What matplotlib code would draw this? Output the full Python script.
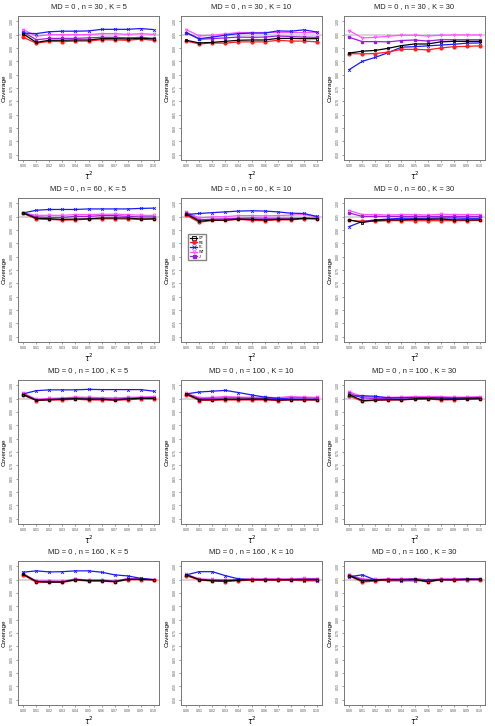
import numpy as np
import matplotlib
matplotlib.use("Agg")
import matplotlib.pyplot as plt

plt.rcParams['font.family'] = ['Liberation Sans', 'DejaVu Sans']

tau2 = [0.00, 0.01, 0.02, 0.03, 0.04, 0.05, 0.06, 0.07, 0.08, 0.09, 0.10]
tau_labels = ["0.00", "0.01", "0.02", "0.03", "0.04", "0.05", "0.06", "0.07", "0.08", "0.09", "0.10"]
sample_sizes = [30, 60, 100, 160]
study_counts = [5, 10, 30]
methods = ["CP", "RE", "PL", "WT", "J"]

# coverage, one list per (n, K) panel and method
cp_30_5 = [0.953, 0.921, 0.929, 0.929, 0.930, 0.930, 0.935, 0.935, 0.934, 0.936, 0.934]
re_30_5 = [0.940, 0.918, 0.925, 0.924, 0.926, 0.926, 0.931, 0.930, 0.929, 0.933, 0.929]
pl_30_5 = [0.956, 0.954, 0.961, 0.963, 0.963, 0.964, 0.970, 0.970, 0.970, 0.973, 0.969]
wt_30_5 = [0.969, 0.944, 0.950, 0.950, 0.950, 0.950, 0.954, 0.954, 0.951, 0.954, 0.951]
j_30_5 = [0.960, 0.931, 0.936, 0.936, 0.936, 0.938, 0.940, 0.940, 0.938, 0.940, 0.936]

cp_30_10 = [0.929, 0.919, 0.921, 0.925, 0.929, 0.930, 0.930, 0.936, 0.936, 0.935, 0.935]
re_30_10 = [0.926, 0.915, 0.919, 0.918, 0.923, 0.923, 0.923, 0.929, 0.926, 0.926, 0.923]
pl_30_10 = [0.958, 0.935, 0.941, 0.948, 0.954, 0.956, 0.956, 0.964, 0.963, 0.968, 0.960]
wt_30_10 = [0.969, 0.945, 0.948, 0.953, 0.958, 0.958, 0.958, 0.958, 0.958, 0.958, 0.958]
j_30_10 = [0.958, 0.933, 0.935, 0.938, 0.941, 0.940, 0.941, 0.945, 0.943, 0.941, 0.940]

cp_30_30 = [0.881, 0.888, 0.891, 0.899, 0.909, 0.915, 0.915, 0.923, 0.925, 0.925, 0.925]
re_30_30 = [0.879, 0.878, 0.879, 0.885, 0.895, 0.895, 0.893, 0.900, 0.905, 0.906, 0.908]
pl_30_30 = [0.819, 0.850, 0.865, 0.883, 0.903, 0.905, 0.908, 0.911, 0.914, 0.918, 0.919]
wt_30_30 = [0.965, 0.938, 0.940, 0.944, 0.948, 0.948, 0.945, 0.948, 0.949, 0.949, 0.949]
j_30_30 = [0.940, 0.924, 0.924, 0.923, 0.928, 0.930, 0.926, 0.931, 0.931, 0.931, 0.931]

cp_60_5 = [0.964, 0.944, 0.942, 0.940, 0.941, 0.942, 0.945, 0.945, 0.945, 0.941, 0.942]
re_60_5 = [0.962, 0.941, 0.940, 0.937, 0.938, 0.941, 0.942, 0.942, 0.941, 0.940, 0.941]
pl_60_5 = [0.964, 0.974, 0.977, 0.977, 0.977, 0.979, 0.979, 0.979, 0.979, 0.981, 0.982]
wt_60_5 = [0.964, 0.955, 0.955, 0.955, 0.958, 0.958, 0.959, 0.959, 0.958, 0.955, 0.955]
j_60_5 = [0.964, 0.949, 0.947, 0.947, 0.951, 0.951, 0.954, 0.954, 0.951, 0.949, 0.949]

cp_60_10 = [0.960, 0.933, 0.937, 0.937, 0.941, 0.940, 0.938, 0.940, 0.940, 0.944, 0.942]
re_60_10 = [0.955, 0.929, 0.936, 0.936, 0.940, 0.936, 0.935, 0.938, 0.938, 0.942, 0.942]
pl_60_10 = [0.958, 0.962, 0.965, 0.968, 0.971, 0.972, 0.971, 0.968, 0.963, 0.962, 0.951]
wt_60_10 = [0.967, 0.945, 0.949, 0.950, 0.954, 0.954, 0.953, 0.954, 0.956, 0.958, 0.949]
j_60_10 = [0.964, 0.938, 0.941, 0.942, 0.944, 0.945, 0.944, 0.944, 0.944, 0.944, 0.945]

cp_60_30 = [0.938, 0.928, 0.936, 0.938, 0.938, 0.940, 0.940, 0.941, 0.938, 0.938, 0.938]
re_60_30 = [0.936, 0.933, 0.933, 0.935, 0.935, 0.935, 0.935, 0.935, 0.935, 0.935, 0.936]
pl_60_30 = [0.913, 0.932, 0.938, 0.941, 0.944, 0.944, 0.944, 0.945, 0.945, 0.944, 0.944]
wt_60_30 = [0.973, 0.958, 0.958, 0.956, 0.958, 0.958, 0.956, 0.959, 0.958, 0.958, 0.958]
j_60_30 = [0.964, 0.951, 0.951, 0.951, 0.951, 0.951, 0.951, 0.951, 0.951, 0.951, 0.951]

cp_100_5 = [0.965, 0.944, 0.946, 0.948, 0.950, 0.948, 0.948, 0.945, 0.949, 0.951, 0.951]
re_100_5 = [0.963, 0.943, 0.945, 0.945, 0.948, 0.945, 0.945, 0.944, 0.946, 0.949, 0.949]
pl_100_5 = [0.968, 0.980, 0.983, 0.983, 0.983, 0.985, 0.984, 0.984, 0.984, 0.984, 0.978]
wt_100_5 = [0.971, 0.948, 0.951, 0.953, 0.956, 0.955, 0.954, 0.953, 0.955, 0.956, 0.958]
j_100_5 = [0.969, 0.945, 0.949, 0.950, 0.953, 0.951, 0.950, 0.949, 0.951, 0.954, 0.954]

cp_100_10 = [0.968, 0.946, 0.946, 0.948, 0.948, 0.948, 0.948, 0.945, 0.946, 0.946, 0.946]
re_100_10 = [0.965, 0.943, 0.944, 0.945, 0.945, 0.945, 0.945, 0.943, 0.945, 0.945, 0.945]
pl_100_10 = [0.968, 0.975, 0.978, 0.981, 0.973, 0.964, 0.956, 0.951, 0.948, 0.948, 0.946]
wt_100_10 = [0.970, 0.954, 0.955, 0.958, 0.956, 0.955, 0.955, 0.954, 0.958, 0.956, 0.955]
j_100_10 = [0.969, 0.950, 0.951, 0.953, 0.953, 0.951, 0.951, 0.950, 0.953, 0.953, 0.951]

cp_100_30 = [0.965, 0.943, 0.945, 0.946, 0.946, 0.949, 0.950, 0.948, 0.948, 0.949, 0.950]
re_100_30 = [0.960, 0.940, 0.944, 0.945, 0.945, 0.948, 0.949, 0.945, 0.946, 0.948, 0.949]
pl_100_30 = [0.959, 0.961, 0.959, 0.953, 0.953, 0.953, 0.954, 0.953, 0.951, 0.953, 0.953]
wt_100_30 = [0.975, 0.959, 0.955, 0.955, 0.956, 0.958, 0.958, 0.958, 0.956, 0.956, 0.958]
j_100_30 = [0.970, 0.953, 0.951, 0.951, 0.953, 0.954, 0.954, 0.953, 0.953, 0.953, 0.954]

cp_160_5 = [0.970, 0.943, 0.941, 0.941, 0.950, 0.946, 0.946, 0.943, 0.951, 0.951, 0.950]
re_160_5 = [0.968, 0.940, 0.940, 0.940, 0.948, 0.945, 0.945, 0.941, 0.950, 0.950, 0.949]
pl_160_5 = [0.978, 0.983, 0.979, 0.980, 0.983, 0.983, 0.978, 0.968, 0.964, 0.955, 0.950]
wt_160_5 = [0.973, 0.945, 0.945, 0.944, 0.953, 0.948, 0.949, 0.945, 0.954, 0.953, 0.950]
j_160_5 = [0.971, 0.944, 0.944, 0.943, 0.951, 0.948, 0.948, 0.944, 0.953, 0.953, 0.950]

cp_160_10 = [0.968, 0.950, 0.946, 0.945, 0.948, 0.950, 0.950, 0.950, 0.950, 0.950, 0.950]
re_160_10 = [0.965, 0.948, 0.945, 0.943, 0.946, 0.948, 0.948, 0.948, 0.948, 0.948, 0.948]
pl_160_10 = [0.968, 0.980, 0.980, 0.965, 0.953, 0.950, 0.948, 0.948, 0.948, 0.946, 0.946]
wt_160_10 = [0.970, 0.953, 0.951, 0.950, 0.951, 0.953, 0.953, 0.953, 0.953, 0.955, 0.954]
j_160_10 = [0.969, 0.951, 0.949, 0.948, 0.950, 0.951, 0.951, 0.951, 0.951, 0.953, 0.953]

cp_160_30 = [0.965, 0.945, 0.948, 0.950, 0.950, 0.951, 0.943, 0.950, 0.950, 0.951, 0.951]
re_160_30 = [0.964, 0.941, 0.945, 0.949, 0.949, 0.950, 0.941, 0.949, 0.949, 0.950, 0.950]
pl_160_30 = [0.961, 0.968, 0.949, 0.946, 0.946, 0.946, 0.948, 0.950, 0.948, 0.950, 0.950]
wt_160_30 = [0.968, 0.953, 0.951, 0.953, 0.953, 0.954, 0.950, 0.953, 0.953, 0.954, 0.954]
j_160_30 = [0.966, 0.950, 0.950, 0.951, 0.951, 0.953, 0.948, 0.951, 0.951, 0.953, 0.953]

panels = {
    (30, 5): [cp_30_5, re_30_5, pl_30_5, wt_30_5, j_30_5],
    (30, 10): [cp_30_10, re_30_10, pl_30_10, wt_30_10, j_30_10],
    (30, 30): [cp_30_30, re_30_30, pl_30_30, wt_30_30, j_30_30],
    (60, 5): [cp_60_5, re_60_5, pl_60_5, wt_60_5, j_60_5],
    (60, 10): [cp_60_10, re_60_10, pl_60_10, wt_60_10, j_60_10],
    (60, 30): [cp_60_30, re_60_30, pl_60_30, wt_60_30, j_60_30],
    (100, 5): [cp_100_5, re_100_5, pl_100_5, wt_100_5, j_100_5],
    (100, 10): [cp_100_10, re_100_10, pl_100_10, wt_100_10, j_100_10],
    (100, 30): [cp_100_30, re_100_30, pl_100_30, wt_100_30, j_100_30],
    (160, 5): [cp_160_5, re_160_5, pl_160_5, wt_160_5, j_160_5],
    (160, 10): [cp_160_10, re_160_10, pl_160_10, wt_160_10, j_160_10],
    (160, 30): [cp_160_30, re_160_30, pl_160_30, wt_160_30, j_160_30],
}

y_ticks = [0.50, 0.55, 0.60, 0.65, 0.70, 0.75, 0.80, 0.85, 0.90, 0.95, 1.00]

styles = {
    "CP": dict(color="black", marker="s", ms=2.0, mfc="none", mew=0.6),
    "RE": dict(color="#ff2020", marker="o", ms=2.0),
    "PL": dict(color="#1a1aff", marker="x", ms=2.0, mew=0.6),
    "WT": dict(color="#ff55ff", marker="v", ms=2.0, mfc="none", mew=0.6),
    "J": dict(color="#9a1fd6", marker="s", ms=1.8),
}

W, H = 495, 726
fig = plt.figure(figsize=(W / 100, H / 100), dpi=100)

col_left = [18, 181, 344]
row_top = [16, 198, 380, 561]
pw, ph = 141, 144

for r, n in enumerate(sample_sizes):
    for c, k in enumerate(study_counts):
        ax = fig.add_axes([col_left[c] / W, 1 - (row_top[r] + ph) / H, pw / W, ph / H])
        ax.axhline(0.95, color="#d0d0d0", lw=1.2, zorder=1)
        series = panels[(n, k)]
        # back to front
        for name in ["WT", "J", "PL", "RE", "CP"]:
            vals = series[methods.index(name)]
            ax.plot(tau2, vals, lw=0.9, label=name, zorder=3, **styles[name])
        ax.set_xlim(-0.004, 0.104)
        ax.set_ylim(0.48, 1.02)
        ax.set_xticks(tau2)
        ax.set_xticklabels(tau_labels, fontsize=2.6)
        ax.set_yticks(y_ticks)
        ax.set_yticklabels(["%.2f" % v for v in y_ticks], fontsize=2.6,
                           rotation=90, va="center")
        ax.tick_params(length=1.5, width=0.4, pad=1.5, colors="#555555")
        for s in ax.spines.values():
            s.set_color("#777777")
            s.set_linewidth(0.7)
        ax.set_title("MD = 0 , n = %d , K = %d" % (n, k), fontsize=5.4, pad=5.5,
                     color="#222222")
        ax.set_xlabel(r"$\tau^2$", fontsize=5.5, labelpad=1)
        ax.set_ylabel("Coverage", fontsize=4.6, labelpad=2.5)

        if (n, k) == (60, 10):
            handles, labels = ax.get_legend_handles_labels()
            order = [labels.index(m) for m in methods]
            ax.legend([handles[i] for i in order], methods, loc="upper left",
                      bbox_to_anchor=(0.04, 0.76), fontsize=2.6,
                      frameon=True, fancybox=False, edgecolor="#666666",
                      handlelength=2.0, borderpad=0.4, labelspacing=0.2,
                      handletextpad=0.5, markerscale=1.2)

fig.savefig("out.png", dpi=100)
